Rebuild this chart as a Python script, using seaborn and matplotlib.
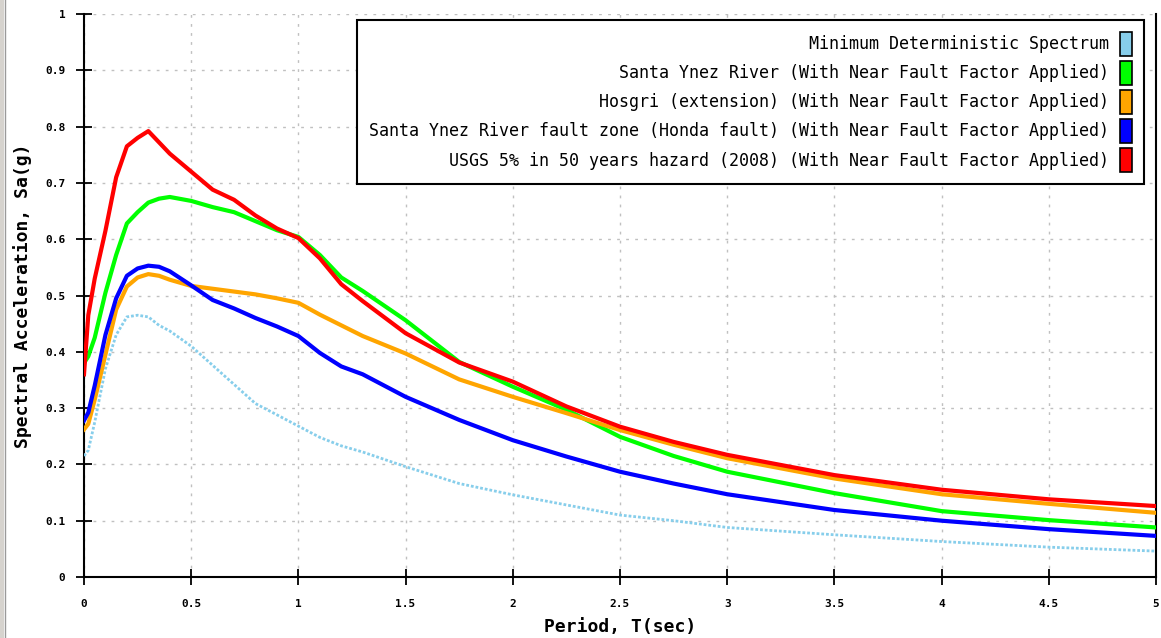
import matplotlib
matplotlib.use("Agg")
import matplotlib.pyplot as plt
import seaborn as sns
from matplotlib.patches import Patch, Rectangle
from matplotlib.lines import Line2D

# ---------------- data ----------------
periods = [0, 0.02, 0.05, 0.1, 0.15, 0.2, 0.25, 0.3, 0.35, 0.4, 0.5, 0.6, 0.7,
           0.8, 0.9, 1.0, 1.1, 1.2, 1.3, 1.5, 1.75, 2.0, 2.25, 2.5, 2.75, 3.0,
           3.5, 4.0, 4.5, 5.0]

min_deterministic = [0.215, 0.225, 0.275, 0.370, 0.430, 0.462, 0.465, 0.462, 0.447,
                     0.437, 0.410, 0.376, 0.342, 0.308, 0.288, 0.268, 0.248, 0.233,
                     0.222, 0.196, 0.166, 0.146, 0.128, 0.110, 0.100, 0.088, 0.075,
                     0.063, 0.053, 0.046]

santa_ynez_river = [0.380, 0.392, 0.425, 0.505, 0.572, 0.628, 0.648, 0.665, 0.672,
                    0.675, 0.668, 0.657, 0.648, 0.632, 0.616, 0.604, 0.572, 0.532,
                    0.508, 0.456, 0.382, 0.338, 0.297, 0.249, 0.215, 0.187, 0.149,
                    0.117, 0.101, 0.088]

hosgri = [0.262, 0.272, 0.315, 0.395, 0.475, 0.516, 0.532, 0.538, 0.535, 0.528,
          0.517, 0.512, 0.507, 0.502, 0.495, 0.487, 0.466, 0.447, 0.428, 0.397,
          0.351, 0.320, 0.291, 0.261, 0.235, 0.211, 0.175, 0.147, 0.130, 0.114]

honda_fault = [0.278, 0.292, 0.340, 0.430, 0.495, 0.535, 0.548, 0.553, 0.551, 0.543,
               0.518, 0.492, 0.477, 0.460, 0.445, 0.428, 0.398, 0.374, 0.360, 0.320,
               0.279, 0.243, 0.214, 0.187, 0.166, 0.147, 0.119, 0.100, 0.085, 0.073]

usgs_hazard = [0.360, 0.465, 0.530, 0.615, 0.710, 0.765, 0.780, 0.792, 0.772, 0.752,
               0.720, 0.688, 0.670, 0.642, 0.619, 0.602, 0.566, 0.520, 0.490, 0.433,
               0.381, 0.347, 0.303, 0.267, 0.240, 0.217, 0.181, 0.155, 0.138, 0.126]

series_names = [
    "Minimum Deterministic Spectrum",
    "Santa Ynez River (With Near Fault Factor Applied)",
    "Hosgri (extension) (With Near Fault Factor Applied)",
    "Santa Ynez River fault zone (Honda fault) (With Near Fault Factor Applied)",
    "USGS 5% in 50 years hazard (2008) (With Near Fault Factor Applied)",
]
series_values = [min_deterministic, santa_ynez_river, hosgri, honda_fault, usgs_hazard]
series_colors = ["#87CEEB", "#00FF00", "#FFA500", "#0000FF", "#FF0000"]

x_ticks = [0, 0.5, 1, 1.5, 2, 2.5, 3, 3.5, 4, 4.5, 5]
x_tick_labels = ["0", "0.5", "1", "1.5", "2", "2.5", "3", "3.5", "4", "4.5", "5"]
y_ticks = [0, 0.1, 0.2, 0.3, 0.4, 0.5, 0.6, 0.7, 0.8, 0.9, 1]
y_tick_labels = ["0", "0.1", "0.2", "0.3", "0.4", "0.5", "0.6", "0.7", "0.8", "0.9", "1"]

x_label = "Period, T(sec)"
y_label = "Spectral Acceleration, Sa(g)"

# ---------------- figure ----------------
W, H = 1161, 638
fig = plt.figure(figsize=(W / 100, H / 100), dpi=100)
fig.patch.set_facecolor("white")
ax = fig.add_axes([84 / W, 1 - 577 / H, (1156 - 84) / W, (577 - 14) / H])

mono = "DejaVu Sans Mono"

for name, vals, col in zip(series_names, series_values, series_colors):
    if name.startswith("Minimum"):
        sns.lineplot(x=periods, y=vals, ax=ax, color=col, linewidth=2.0,
                     linestyle=(0, (1.0, 0.7)), legend=False, zorder=3)
    else:
        sns.lineplot(x=periods, y=vals, ax=ax, color=col, linewidth=3.0,
                     legend=False, zorder=3)

ax.set_xlim(0, 5)
ax.set_ylim(0, 1)
ax.set_xticks(x_ticks)
ax.set_xticklabels(x_tick_labels, fontfamily=mono, fontweight="bold", fontsize=8)
ax.set_yticks(y_ticks)
ax.set_yticklabels(y_tick_labels, fontfamily=mono, fontweight="bold", fontsize=8)
ax.tick_params(axis="both", direction="inout", length=11, width=1.3, color="black")
ax.tick_params(axis="x", pad=10)
ax.tick_params(axis="y", pad=8)

ax.grid(True, color="#c0c0c0", linestyle=(0, (2.0, 4.5)), linewidth=1.0, zorder=0)
ax.set_axisbelow(True)

for side in ["left", "bottom", "right"]:
    ax.spines[side].set_linewidth(1.5)
    ax.spines[side].set_color("black")
ax.spines["top"].set_visible(False)

ax.set_xlabel(x_label, fontfamily=mono, fontweight="bold", fontsize=13, labelpad=7)
ax.set_ylabel(y_label, fontfamily=mono, fontweight="bold", fontsize=13, labelpad=9)

handles = [Patch(facecolor=c, edgecolor="black", linewidth=1.2) for c in series_colors]
leg = ax.legend(handles, series_names, loc="upper right",
                bbox_to_anchor=(1144 / W, 1 - 20 / H), bbox_transform=fig.transFigure,
                borderaxespad=0.0,
                markerfirst=False, frameon=True, fancybox=False, framealpha=1,
                edgecolor="black", borderpad=0.7, handlelength=0.72,
                handleheight=1.85, handletextpad=0.7, labelspacing=0.3,
                prop={"family": mono, "size": 12})
leg.get_frame().set_linewidth(1.5)
leg.set_zorder(5)

# window border on the left edge
fig.patches.append(Rectangle((0, 0), 4 / W, 1, transform=fig.transFigure,
                             facecolor="#d6d3ce", edgecolor="none"))
fig.lines.append(Line2D([4.5 / W, 4.5 / W], [0, 1], transform=fig.transFigure,
                        color="#9a9a9a", linewidth=1))

fig.savefig("out.png", dpi=100)
